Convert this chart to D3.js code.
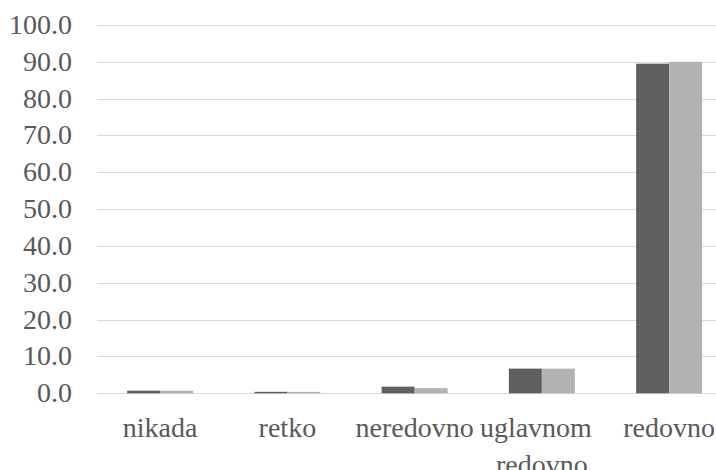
<!DOCTYPE html>
<html><head><meta charset="utf-8">
<script src="https://cdn.jsdelivr.net/npm/d3@7"></script>
<style>body{margin:0;background:#fff}svg{display:block}
text{font-family:"Liberation Serif","Times New Roman",Times,"DejaVu Serif",serif;}</style>
</head><body>
<svg id="c" width="716" height="470"></svg>
<script>
const categories = ["nikada","retko","neredovno","uglavnom redovno","redovno"];
const series1 = [0.7, 0.4, 1.8, 6.7, 89.5];
const series2 = [0.7, 0.4, 1.4, 6.7, 90.0];
const yTicks = [0,10,20,30,40,50,60,70,80,90,100];
const colors = ["#5f5f5f","#b2b2b2"];

const svg = d3.select("#c");
const x = d3.scaleBand().domain(categories).range([96.5, 732.75]).paddingInner(0).paddingOuter(0);
const y = d3.scaleLinear().domain([0,100]).range([393.3, 25]);
const barW = 33;
const FS = 28;

svg.append("g").selectAll("line").data(yTicks).join("line")
  .attr("x1", 97).attr("x2", 716)
  .attr("y1", d => Math.round(y(d))+0.5).attr("y2", d => Math.round(y(d))+0.5)
  .attr("stroke", "#d9d9d9").attr("stroke-width", 1.2);

svg.append("g").selectAll("text").data(yTicks).join("text")
  .attr("x", 72).attr("y", d => y(d)+9)
  .attr("text-anchor","end")
  .attr("font-size", FS).attr("fill","#595959")
  .text(d => d.toFixed(1));

const data = [series1, series2];
data.forEach((s, si) => {
  svg.append("g").selectAll("rect").data(s).join("rect")
    .attr("x", (d,i) => x(categories[i]) + x.bandwidth()/2 - barW + si*barW)
    .attr("width", barW)
    .attr("y", d => y(d))
    .attr("height", d => y(0) - y(d))
    .attr("fill", colors[si]);
});

const lab = svg.append("g")
  .attr("font-size", FS).attr("fill","#595959").attr("text-anchor","middle");
categories.forEach(c => {
  const cx = x(c) + x.bandwidth()/2;
  const t = lab.append("text").attr("x", cx).attr("y", 437);
  if (c === "uglavnom redovno") {
    t.append("tspan").attr("x", cx - 6).attr("y", 437).text("uglavnom");
    t.append("tspan").attr("x", cx).attr("y", 474).text("redovno");
  } else {
    t.text(c);
  }
});
</script>
</body></html>
